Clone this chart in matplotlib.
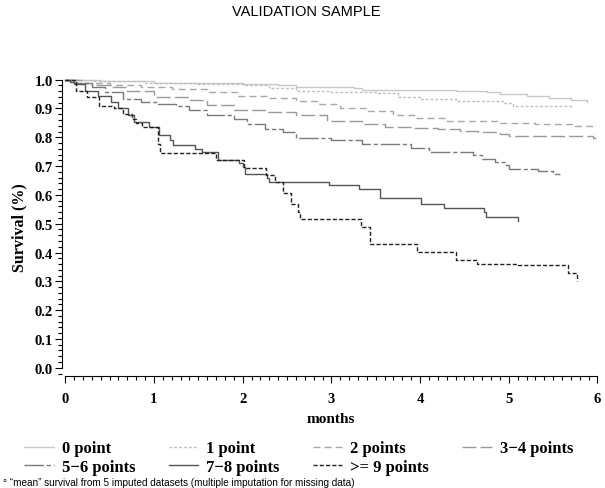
import matplotlib
matplotlib.use("Agg")
import matplotlib.pyplot as plt
from matplotlib.ticker import MultipleLocator, FormatStrFormatter

# Kaplan-Meier style survival curves
t_0 = [0, 0.4, 1.0, 1.6, 2.0, 2.4, 2.6, 3.25, 3.35, 4.4, 4.75, 4.9, 5.2, 5.45, 5.7, 5.88]
s_0 = [1.0, 0.995, 0.99, 0.988, 0.985, 0.98, 0.975, 0.97, 0.963, 0.96, 0.956, 0.951, 0.945, 0.938, 0.93, 0.924]

t_1 = [0, 0.3, 0.9, 1.5, 2.0, 2.3, 2.6, 3.0, 3.5, 3.75, 4.0, 4.4, 4.95, 5.05, 5.7]
s_1 = [1.0, 0.995, 0.99, 0.985, 0.98, 0.972, 0.962, 0.958, 0.952, 0.94, 0.933, 0.927, 0.92, 0.908, 0.905]

t_2 = [0, 0.2, 0.5, 0.85, 1.2, 1.6, 1.95, 2.3, 2.6, 2.85, 3.1, 3.4, 3.7, 3.95, 4.3, 4.9, 5.3, 5.75, 5.98]
s_2 = [1.0, 0.99, 0.983, 0.975, 0.968, 0.956, 0.945, 0.937, 0.927, 0.915, 0.9, 0.892, 0.878, 0.866, 0.857, 0.851, 0.847, 0.84, 0.838]

t_34 = [0, 0.15, 0.3, 0.5, 0.7, 1.0, 1.4, 1.6, 1.9, 2.25, 2.6, 2.95, 3.35, 3.6, 3.9, 4.2, 4.45, 4.65, 4.9, 5.0, 5.4, 5.95, 5.98]
s_34 = [1.0, 0.99, 0.982, 0.973, 0.962, 0.94, 0.928, 0.912, 0.893, 0.887, 0.876, 0.858, 0.847, 0.836, 0.832, 0.827, 0.823, 0.818, 0.812, 0.806, 0.803, 0.798, 0.796]

t_56 = [0, 0.1, 0.3, 0.45, 0.65, 0.85, 1.05, 1.25, 1.4, 1.6, 1.9, 2.05, 2.25, 2.45, 2.6, 3.0, 3.35, 3.9, 4.1, 4.6, 4.7, 4.85, 4.97, 5.0, 5.33, 5.5, 5.58]
s_56 = [1.0, 0.99, 0.974, 0.956, 0.933, 0.922, 0.916, 0.91, 0.893, 0.876, 0.864, 0.847, 0.83, 0.818, 0.797, 0.789, 0.778, 0.762, 0.749, 0.737, 0.726, 0.714, 0.703, 0.691, 0.682, 0.674, 0.674]

t_78 = [0, 0.05, 0.1, 0.22, 0.37, 0.52, 0.6, 0.71, 0.78, 0.94, 1.06, 1.18, 1.22, 1.46, 1.54, 1.72, 1.96, 2.0, 2.03, 2.27, 2.3, 2.97, 3.31, 3.55, 4.01, 4.27, 4.72, 4.74, 5.1]
s_78 = [1.0, 0.992, 0.985, 0.962, 0.945, 0.922, 0.9, 0.876, 0.853, 0.835, 0.807, 0.79, 0.774, 0.76, 0.75, 0.72, 0.709, 0.697, 0.674, 0.657, 0.646, 0.634, 0.622, 0.588, 0.569, 0.556, 0.542, 0.523, 0.51]

t_9 = [0, 0.12, 0.24, 0.38, 0.55, 0.65, 0.75, 0.8, 0.86, 1.04, 1.07, 1.7, 2.01, 2.26, 2.37, 2.45, 2.55, 2.62, 2.65, 3.33, 3.43, 3.96, 4.41, 4.64, 5.1, 5.67, 5.77]
s_9 = [1.0, 0.962, 0.939, 0.91, 0.9, 0.88, 0.862, 0.85, 0.835, 0.778, 0.747, 0.72, 0.693, 0.668, 0.646, 0.605, 0.57, 0.54, 0.516, 0.49, 0.431, 0.403, 0.374, 0.36, 0.357, 0.328, 0.30]

labels = ["0 point", "1 point", "2 points", "3\u22124 points",
          "5\u22126 points", "7\u22128 points", ">= 9 points"]

serif = "Liberation Serif"

fig = plt.figure(figsize=(6.05, 4.89), dpi=100)
ax = fig.add_axes([0.102, 0.23, 0.89, 0.608])

curves = [
    (t_0, s_0, "#c8c8c8", (None, None)),
    (t_1, s_1, "#bdbdbd", (2, 1.5)),
    (t_2, s_2, "#a8a8a8", (5, 3)),
    (t_34, s_34, "#9a9a9a", (10, 3)),
    (t_56, s_56, "#7a7a7a", (14, 2, 3, 2)),
    (t_78, s_78, "#555555", (None, None)),
    (t_9, s_9, "#222222", (3, 1.5)),
]

handles = []
for (t, s, col, dash), lab in zip(curves, labels):
    if dash[0] is None:
        ln, = ax.plot(t, s, drawstyle="steps-post", color=col, lw=1.0, label=lab)
    else:
        ln, = ax.plot(t, s, drawstyle="steps-post", color=col, lw=1.0,
                      dashes=dash, label=lab)
    handles.append(ln)

ax.set_xlim(-0.04, 6.03)
ax.set_ylim(-0.027, 1.005)
ax.spines["top"].set_visible(False)
ax.spines["right"].set_visible(False)
ax.spines["bottom"].set_bounds(0, 6)
ax.spines["left"].set_bounds(0, 1.0)

ax.xaxis.set_major_locator(MultipleLocator(1))
ax.xaxis.set_minor_locator(MultipleLocator(0.1))
ax.yaxis.set_major_locator(MultipleLocator(0.1))
ax.yaxis.set_minor_locator(MultipleLocator(0.02))
ax.yaxis.set_major_formatter(FormatStrFormatter("%.1f"))
ax.tick_params(which="major", length=5, width=0.8, direction="out")
ax.tick_params(which="minor", length=3, width=0.8, direction="out")
for lbl in ax.get_xticklabels() + ax.get_yticklabels():
    lbl.set_fontfamily(serif)
    lbl.set_fontweight("bold")
    lbl.set_fontsize(10.5)
ax.tick_params(axis="x", pad=7)
ax.tick_params(axis="y", pad=1.5)

ax.set_xlabel("months", fontfamily=serif, fontweight="bold", fontsize=11, labelpad=5)
ax.set_ylabel("Survival (%)", fontfamily=serif, fontweight="bold", fontsize=11.5, labelpad=5)

fig.text(0.506, 0.976, "VALIDATION SAMPLE", ha="center", va="center",
         fontfamily="Liberation Sans", fontsize=10.5)

# legend filled row by row
order = [0, 4, 1, 5, 2, 6, 3]
fig.legend([handles[i] for i in order], [labels[i] for i in order],
           ncol=4, loc="center", bbox_to_anchor=(0.494, 0.062), frameon=False,
           prop={"family": serif, "weight": "bold", "size": 12},
           handlelength=1.75, handletextpad=0.5, columnspacing=2.0,
           labelspacing=0.15, borderpad=0, borderaxespad=0)

fig.text(0.005, 0.013, "\u00b0 \u201cmean\u201d survival from 5 imputed datasets (multiple imputation for missing data)",
         ha="left", va="center", fontfamily="Liberation Sans", fontsize=7.2)

fig.savefig("out.png", dpi=100)
